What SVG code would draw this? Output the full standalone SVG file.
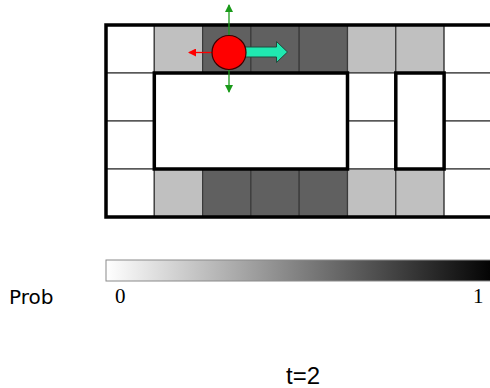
<svg xmlns="http://www.w3.org/2000/svg" width="490" height="388" viewBox="0 0 490 388">
  <style>
    .cell { stroke: #3a3a3a; stroke-width: 1.2; }
    .w { fill: #ffffff; }
    .l { fill: #c0c0c0; }
    .d { fill: #606060; }
    .wall { fill: #ffffff; stroke: #000000; stroke-width: 3.5; }
    .frame { fill: none; stroke: #000000; stroke-width: 3.5; }
    .sans { font-family: "DejaVu Sans", "Liberation Sans", sans-serif; fill: #000; }
    .serif { font-family: "Liberation Serif", serif; fill: #000; }
  </style>
  <defs>
    <marker id="headG" viewBox="0 0 8 8" refX="7" refY="4" markerWidth="8" markerHeight="8" markerUnits="userSpaceOnUse" orient="auto">
      <path d="M0,0 L8,4 L0,8 Z" fill="#1a9a1a"/>
    </marker>
    <marker id="headR" viewBox="0 0 8 8" refX="7" refY="4" markerWidth="8" markerHeight="8" markerUnits="userSpaceOnUse" orient="auto">
      <path d="M0,0 L8,4 L0,8 Z" fill="#ff0000"/>
    </marker>
    <linearGradient id="probGrad" x1="0" y1="0" x2="1" y2="0">
      <stop offset="0" stop-color="#ffffff"/>
      <stop offset="1" stop-color="#000000"/>
    </linearGradient>
  </defs>

  <!-- grid cells: 8 columns x 4 rows -->
  <g id="grid">
    <!-- top row -->
    <rect class="cell w" x="106" y="25" width="48.3" height="48"/>
    <rect class="cell l" x="154.3" y="25" width="48.3" height="48"/>
    <rect class="cell d" x="202.6" y="25" width="48.3" height="48"/>
    <rect class="cell d" x="250.9" y="25" width="48.3" height="48"/>
    <rect class="cell d" x="299.2" y="25" width="48.3" height="48"/>
    <rect class="cell l" x="347.5" y="25" width="48.3" height="48"/>
    <rect class="cell l" x="395.8" y="25" width="48.3" height="48"/>
    <rect class="cell w" x="444.1" y="25" width="48.3" height="48"/>
    <!-- middle rows -->
    <rect class="cell w" x="106" y="73" width="48.3" height="48"/>
    <rect class="cell w" x="106" y="121" width="48.3" height="48"/>
    <rect class="cell w" x="347.5" y="73" width="48.3" height="48"/>
    <rect class="cell w" x="347.5" y="121" width="48.3" height="48"/>
    <rect class="cell w" x="444.1" y="73" width="48.3" height="48"/>
    <rect class="cell w" x="444.1" y="121" width="48.3" height="48"/>
    <!-- bottom row -->
    <rect class="cell w" x="106" y="169" width="48.3" height="48"/>
    <rect class="cell l" x="154.3" y="169" width="48.3" height="48"/>
    <rect class="cell d" x="202.6" y="169" width="48.3" height="48"/>
    <rect class="cell d" x="250.9" y="169" width="48.3" height="48"/>
    <rect class="cell d" x="299.2" y="169" width="48.3" height="48"/>
    <rect class="cell l" x="347.5" y="169" width="48.3" height="48"/>
    <rect class="cell l" x="395.8" y="169" width="48.3" height="48"/>
    <rect class="cell w" x="444.1" y="169" width="48.3" height="48"/>
  </g>

  <!-- obstacles and outer frame -->
  <g id="walls">
    <rect class="wall" x="154.3" y="73" width="193.2" height="96"/>
    <rect class="wall" x="395.8" y="73" width="48.3" height="96"/>
    <rect class="frame" x="106" y="25" width="390" height="192"/>
  </g>

  <!-- possible motions of the robot -->
  <g id="connectors">
    <line x1="229" y1="35" x2="229" y2="5" stroke="#1a9a1a" stroke-width="1.3" marker-end="url(#headG)"/>
    <line x1="229" y1="70" x2="229" y2="92" stroke="#1a9a1a" stroke-width="1.3" marker-end="url(#headG)"/>
    <line x1="212" y1="52.5" x2="189" y2="52.5" stroke="#ff0000" stroke-width="1.3" marker-end="url(#headR)"/>
    <path d="M244,47 L276.5,47 L276.5,41.5 L287.5,52 L276.5,62.5 L276.5,57 L244,57 Z" fill="#20e8b0" stroke="#1e4a3c" stroke-width="1"/>
  </g>

  <!-- robot -->
  <g id="robot">
    <circle cx="229" cy="52.5" r="17" fill="#ff0000" stroke="#3a0000" stroke-width="1.2"/>
  </g>

  <!-- probability colour scale -->
  <g id="legend">
    <rect x="106" y="260" width="390" height="21" fill="url(#probGrad)" stroke="#8a8a8a" stroke-width="1"/>
    <text class="sans" x="9" y="304" font-size="20">Prob</text>
    <text class="serif" x="115" y="303" font-size="21">0</text>
    <text class="serif" x="473" y="303" font-size="21">1</text>
  </g>

  <g id="caption">
    <text class="sans" x="286" y="384" font-size="24" style="font-family: 'Liberation Sans', sans-serif">t=2</text>
  </g>
</svg>
